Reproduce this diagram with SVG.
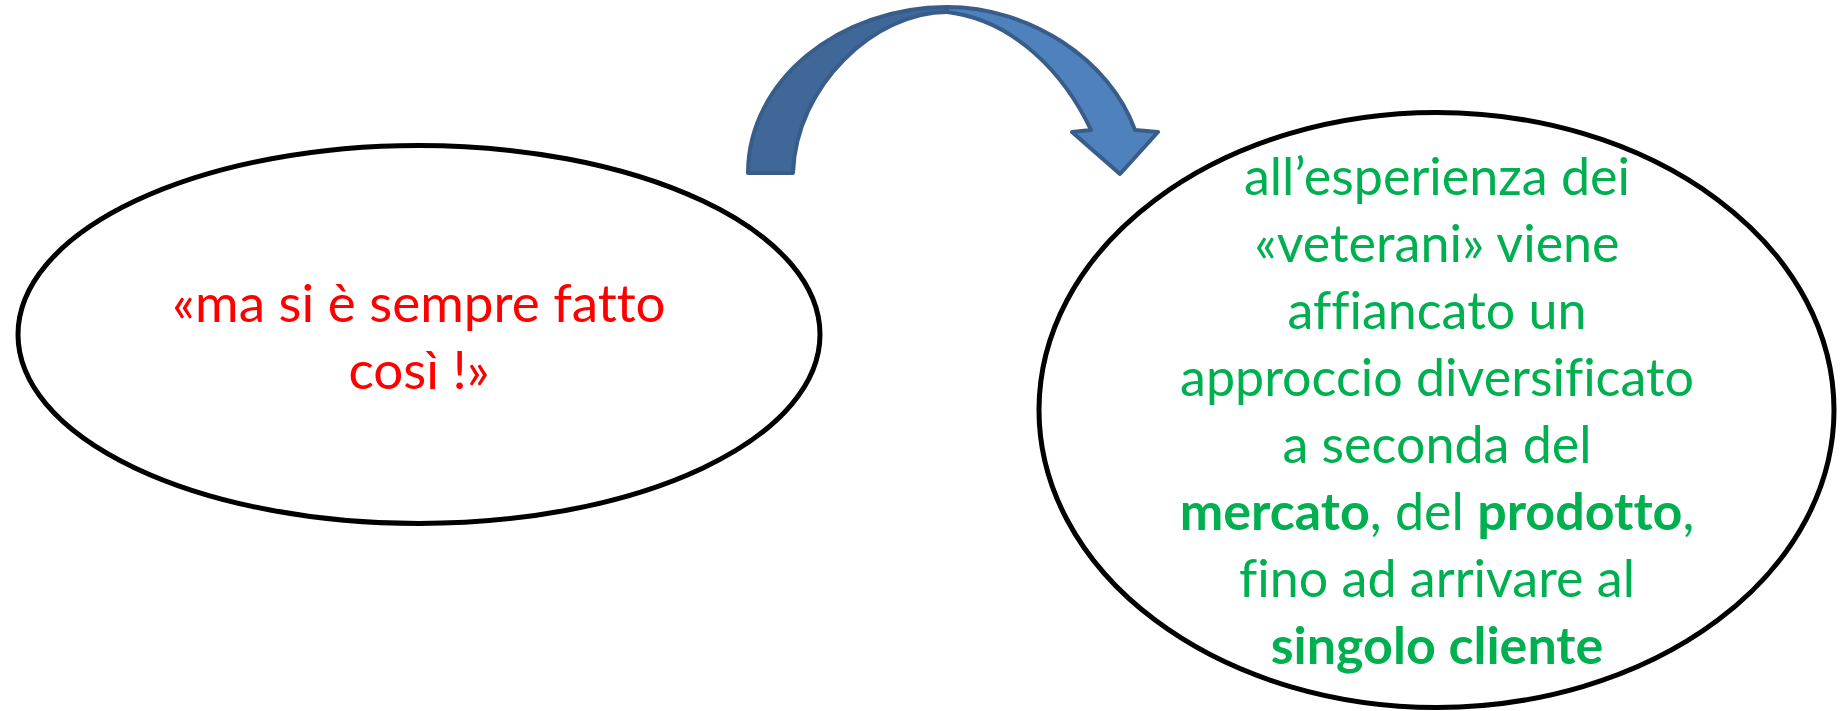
<svg xmlns="http://www.w3.org/2000/svg" width="1847" height="711" viewBox="0 0 1847 711">
<style>
.node{fill:#fff;stroke:#000;stroke-width:5}
.t{font-family:Lato,"Liberation Sans",sans-serif;font-size:52px;text-anchor:middle;font-variant-ligatures:none;font-feature-settings:"liga" 0}
.red{fill:#FF0000;font-size:53px}
.green{fill:#00B050}
.b{font-weight:bold}
.arr{stroke:#385D8A;stroke-width:4;stroke-linejoin:round}
</style>
<rect width="1847" height="711" fill="#fff"/>
<g id="connectors">
<path class="arr" fill="#4F81BD" d="M947,7 C1030,7 1110,60 1135,130 L1158,132 L1120,174 L1072,132 L1091,130 C1065,75 1015,20 947,12 Z"/>
<path class="arr" fill="#3F6797" d="M748,173 C748,80 840,7 947,7 L947,12 C875,12 796,85 793,173 Z"/>
</g>
<g id="node1">
<ellipse class="node" cx="419" cy="334.5" rx="401" ry="189"/>
<text class="t red" x="419" y="322">«ma si è sempre fatto</text>
<text class="t red" x="419" y="389">così !»</text>
</g>
<g id="node2">
<ellipse class="node" cx="1436.5" cy="410" rx="397.5" ry="297.5"/>
<text class="t green" x="1437" y="195">all’esperienza dei</text>
<text class="t green" x="1437" y="262">«veterani» viene</text>
<text class="t green" x="1437" y="329">affiancato un</text>
<text class="t green" x="1437" y="396">approccio diversificato</text>
<text class="t green" x="1437" y="463">a seconda del</text>
<text class="t green" x="1437" y="530"><tspan class="b">mercato</tspan>, del <tspan class="b">prodotto</tspan>,</text>
<text class="t green" x="1437" y="597">fino ad arrivare al</text>
<text class="t green b" x="1437" y="664">singolo cliente</text>
</g>
</svg>
